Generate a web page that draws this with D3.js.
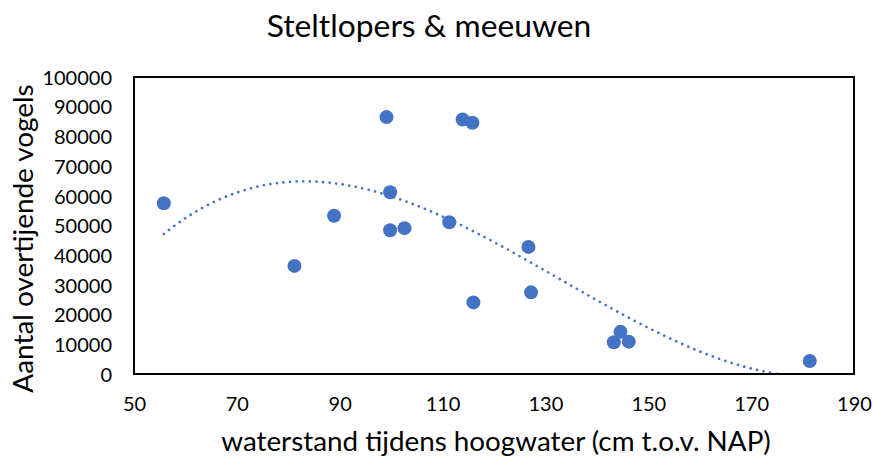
<!DOCTYPE html>
<html>
<head>
<meta charset="utf-8">
<script src="https://cdn.jsdelivr.net/npm/d3@7"></script>
<style>
  html, body { margin: 0; padding: 0; background: #fff; }
  svg { display: block; font-family: Lato, "Open Sans", sans-serif; }
</style>
</head>
<body>
<svg id="chart" width="874" height="457"></svg>
<script>
// Water level at high tide (cm above NAP) and number of roosting birds
const waterstand = [55.8, 99.1, 113.9, 115.8, 99.8, 88.9, 99.8, 102.6, 111.3, 81.2, 116.0,
                    126.7, 127.2, 144.6, 143.3, 146.2, 181.4];
const vogels = [57500, 86500, 85700, 84600, 61200, 53300, 48400, 49100, 51100, 36400, 24100,
                42800, 27500, 14200, 10700, 10900, 4400];

const xTicks = [50, 70, 90, 110, 130, 150, 170, 190];
const yTicks = [0, 10000, 20000, 30000, 40000, 50000, 60000, 70000, 80000, 90000, 100000];

const titel = "Steltlopers & meeuwen";
const xTitel = "waterstand tijdens hoogwater (cm t.o.v. NAP)";
const yTitel = "Aantal overtijende vogels";

const kleur = "#4472C4";

const svg = d3.select("#chart");
const plot = { left: 134, right: 854, top: 77, bottom: 374 };

const x = d3.scaleLinear().domain([50, 190]).range([plot.left, plot.right]);
const y = d3.scaleLinear().domain([0, 100000]).range([plot.bottom, plot.top]);

// Third-order polynomial least-squares trendline
function cubicFit(xs, ys) {
  const m = d3.mean(xs);
  const n = 4;
  const A = Array.from({ length: n }, () => new Array(n + 1).fill(0));
  xs.forEach((xv, i) => {
    const t = xv - m;
    const p = [1, t, t * t, t * t * t];
    for (let r = 0; r < n; r++) {
      for (let c = 0; c < n; c++) A[r][c] += p[r] * p[c];
      A[r][n] += p[r] * ys[i];
    }
  });
  for (let col = 0; col < n; col++) {
    let piv = col;
    for (let r = col + 1; r < n; r++) if (Math.abs(A[r][col]) > Math.abs(A[piv][col])) piv = r;
    [A[col], A[piv]] = [A[piv], A[col]];
    for (let r = 0; r < n; r++) {
      if (r === col) continue;
      const f = A[r][col] / A[col][col];
      for (let c = col; c <= n; c++) A[r][c] -= f * A[col][c];
    }
  }
  const coef = A.map((row, i) => row[n] / row[i]);
  return xv => {
    const t = xv - m;
    return coef[0] + coef[1] * t + coef[2] * t * t + coef[3] * t * t * t;
  };
}

const trend = cubicFit(waterstand, vogels);
const [xmin, xmax] = d3.extent(waterstand);
const trendPts = d3.range(0, 201).map(i => {
  const xv = xmin + (xmax - xmin) * i / 200;
  return [xv, trend(xv)];
});

svg.append("defs").append("clipPath").attr("id", "plotClip")
  .append("rect")
  .attr("x", plot.left).attr("y", plot.top)
  .attr("width", plot.right - plot.left).attr("height", plot.bottom - plot.top);

// Title
svg.append("text")
  .attr("x", 429).attr("y", 36.5)
  .attr("text-anchor", "middle")
  .attr("font-size", 31.8)
  .attr("fill", "#000")
  .text(titel);

// Axes (labels only, no tick marks)
const xAxis = d3.axisBottom(x).tickValues(xTicks).tickSize(0).tickPadding(0).tickFormat(d3.format("d"));
const gx = svg.append("g").attr("transform", `translate(0,${plot.bottom})`).call(xAxis);
gx.select(".domain").remove();
gx.selectAll("text")
  .attr("y", 37).attr("dy", null)
  .attr("font-size", 20).attr("fill", "#000");

const yAxis = d3.axisLeft(y).tickValues(yTicks).tickSize(0).tickPadding(0).tickFormat(d3.format("d"));
const gy = svg.append("g").attr("transform", `translate(112,0)`).call(yAxis);
gy.select(".domain").remove();
gy.selectAll("text")
  .attr("x", 0).attr("dy", "0.36em")
  .attr("font-size", 20).attr("fill", "#000");
gx.attr("font-family", null);
gy.attr("font-family", null);

// Axis titles
svg.append("text")
  .attr("x", 496).attr("y", 451)
  .attr("text-anchor", "middle")
  .attr("font-size", 27.8)
  .attr("fill", "#000")
  .text(xTitel);

svg.append("text")
  .attr("transform", `translate(33,238.5) rotate(-90)`)
  .attr("text-anchor", "middle")
  .attr("font-size", 27.9)
  .attr("fill", "#000")
  .text(yTitel);

// Trendline (dotted)
svg.append("path")
  .datum(trendPts)
  .attr("clip-path", "url(#plotClip)")
  .attr("fill", "none")
  .attr("stroke", kleur)
  .attr("stroke-width", 2.7)
  .attr("stroke-linecap", "round")
  .attr("stroke-dasharray", "0.01 6.6")
  .attr("d", d3.line().x(d => x(d[0])).y(d => y(d[1])));

// Data points
svg.append("g")
  .selectAll("circle")
  .data(waterstand.map((w, i) => ({ w, n: vogels[i] })))
  .join("circle")
  .attr("cx", d => x(d.w))
  .attr("cy", d => y(d.n))
  .attr("r", 7)
  .attr("fill", kleur);

// Plot area frame
svg.append("rect")
  .attr("x", plot.left).attr("y", plot.top)
  .attr("width", plot.right - plot.left).attr("height", plot.bottom - plot.top)
  .attr("fill", "none")
  .attr("stroke", "#000")
  .attr("stroke-width", 2);
</script>
</body>
</html>
